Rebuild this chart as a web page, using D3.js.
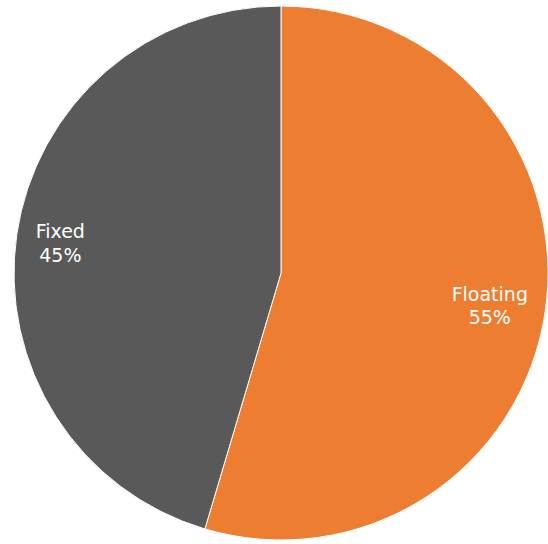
<!DOCTYPE html>
<html>
<head>
<meta charset="utf-8">
<script src="https://d3js.org/d3.v7.min.js"></script>
<style>
  body { margin: 0; background: #fff; }
  svg { display: block; }
</style>
</head>
<body>
<svg id="pie"></svg>
<script>
// Chart data (slice sizes, labels show rounded shares)
var categories = ['Floating', 'Fixed'];
var shares = [54.6, 45.4];
var colours = ['#ED7D31', '#595959'];

var width = 548;
var height = 544;
var cx = 281, cy = 273, radius = 267;

// distance of each label from the centre
var labelRadius = { Floating: 211, Fixed: 223 };

var data = categories.map(function(c, i) {
    return { name: c, value: shares[i] };
});

var svg = d3.select('#pie')
    .attr('width', width)
    .attr('height', height);

var g = svg.append('g')
    .attr('transform', `translate(${cx}, ${cy})`);

var colorScale = d3.scaleOrdinal()
    .domain(categories)
    .range(colours);

var pie = d3.pie()
    .value(d => d.value)
    .sort(null);

var arc = d3.arc()
    .innerRadius(0)
    .outerRadius(radius);

var arcs = pie(data);

g.selectAll('path')
    .data(arcs)
    .enter()
    .append('path')
    .attr('d', arc)
    .attr('fill', d => colorScale(d.data.name))
    .attr('stroke', '#fff')
    .attr('stroke-width', 1);

function labelPos(d) {
    var r = labelRadius[d.data.name];
    return d3.arc().innerRadius(r).outerRadius(r).centroid(d);
}

var labels = g.selectAll('.label')
    .data(arcs)
    .enter()
    .append('text')
    .attr('class', 'label')
    .attr('transform', d => `translate(${labelPos(d)})`)
    .attr('text-anchor', 'middle')
    .attr('fill', '#fff')
    .style('font-family', '"DejaVu Sans", sans-serif')
    .style('font-size', '19px');

labels.append('tspan')
    .attr('x', 0)
    .attr('dy', '-0.15em')
    .text(d => d.data.name);

labels.append('tspan')
    .attr('x', 0)
    .attr('dy', '1.25em')
    .text(d => Math.round(d.data.value) + '%');
</script>
</body>
</html>
